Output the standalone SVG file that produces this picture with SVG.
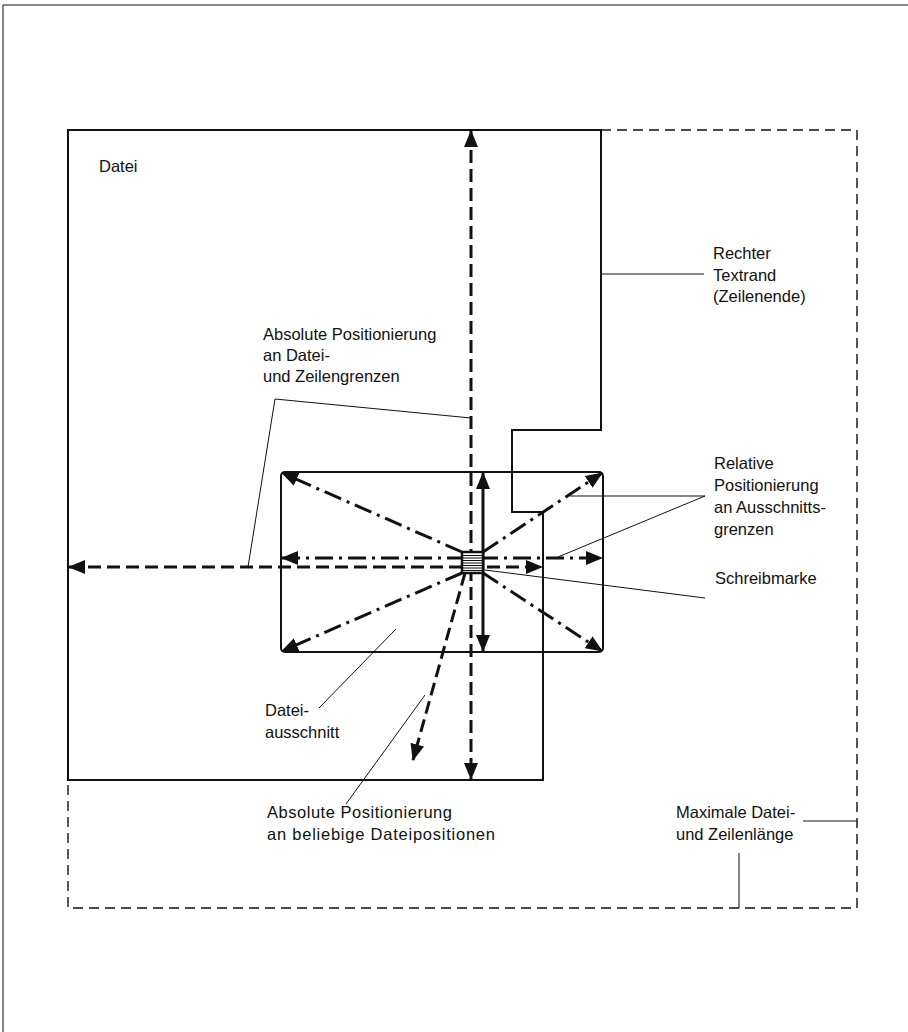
<svg xmlns="http://www.w3.org/2000/svg" width="908" height="1032" viewBox="0 0 908 1032">
<style>
.t{font-family:"Liberation Sans",Arial,sans-serif;font-size:16.5px;fill:#111}
.solid{fill:none;stroke:#111;stroke-width:2}
.maxd{fill:none;stroke:#111;stroke-width:1.4;stroke-dasharray:10 6}
.abs{fill:none;stroke:#111;stroke-width:3;stroke-dasharray:13 6}
.rel{fill:none;stroke:#111;stroke-width:3;stroke-dasharray:18 6 3 6}
.bold{fill:none;stroke:#111;stroke-width:3}
.lead{fill:none;stroke:#111;stroke-width:1}
</style>
<defs>
<marker id="ah" markerUnits="userSpaceOnUse" markerWidth="18" markerHeight="14" refX="16" refY="7" orient="auto-start-reverse" viewBox="0 0 18 14">
<path d="M0,0 L17,7 L0,14 Z" fill="#111"/>
</marker>
</defs>
<g id="page-frame">
<path class="lead" d="M3,1032 V5 H908" stroke-width="1.5"/>
</g>
<g id="max-length">
<path class="maxd" d="M601,130 H857 V908 H68 V780"/>
</g>
<g id="datei">
<path class="solid" d="M68,780 V130 H601 V430 H512 V512 H543 V780 Z"/>
<text class="t" x="99" y="172">Datei</text>
</g>
<g id="dateiausschnitt">
<rect class="solid" x="281" y="472" width="322" height="180" rx="4"/>
</g>
<g id="connectors">
<line class="abs" x1="471" y1="131" x2="471" y2="779" marker-start="url(#ah)" marker-end="url(#ah)"/>
<line class="abs" x1="69" y1="567" x2="542" y2="567" marker-start="url(#ah)" marker-end="url(#ah)"/>
<line class="abs" x1="465" y1="573" x2="413" y2="760" marker-end="url(#ah)"/>
<line class="bold" x1="483" y1="473" x2="483" y2="651" marker-start="url(#ah)" marker-end="url(#ah)"/>
<line class="rel" x1="282" y1="558" x2="602" y2="558" marker-start="url(#ah)" marker-end="url(#ah)"/>
<line class="rel" x1="462" y1="552" x2="282" y2="473" marker-end="url(#ah)"/>
<line class="rel" x1="483" y1="552" x2="602" y2="473" marker-end="url(#ah)"/>
<line class="rel" x1="462" y1="573" x2="282" y2="651" marker-end="url(#ah)"/>
<line class="rel" x1="483" y1="573" x2="602" y2="651" marker-end="url(#ah)"/>
<polyline class="lead" points="471,418 275,399 248,567"/>
<line class="lead" x1="601" y1="274" x2="704" y2="274"/>
<polyline class="lead" points="570,496 705,496 558,557"/>
<line class="lead" x1="485" y1="570" x2="705" y2="598"/>
<line class="lead" x1="319" y1="708" x2="396" y2="629"/>
<line class="lead" x1="425" y1="695" x2="346" y2="804"/>
<line class="lead" x1="803" y1="821" x2="857" y2="821"/>
<line class="lead" x1="739" y1="853" x2="739" y2="908"/>
</g>
<g id="schreibmarke">
<rect x="462" y="552" width="21" height="21" fill="#fff" stroke="#111" stroke-width="2.5"/>
<path class="lead" d="M463,555.5 H482 M463,558 H482 M463,560.5 H482 M463,563 H482 M463,565.5 H482 M463,568 H482 M463,570.5 H482"/>
</g>
<g id="labels">
<text class="t" x="263" y="340">Absolute Positionierung</text>
<text class="t" x="263" y="361">an Datei-</text>
<text class="t" x="263" y="382">und Zeilengrenzen</text>
<text class="t" x="713" y="259">Rechter</text>
<text class="t" x="713" y="281">Textrand</text>
<text class="t" x="713" y="302">(Zeilenende)</text>
<text class="t" x="714" y="469">Relative</text>
<text class="t" x="714" y="491">Positionierung</text>
<text class="t" x="714" y="513">an Ausschnitts-</text>
<text class="t" x="714" y="535">grenzen</text>
<text class="t" x="715" y="584">Schreibmarke</text>
<text class="t" x="265" y="716">Datei-</text>
<text class="t" x="265" y="738">ausschnitt</text>
<text class="t" x="267" y="818" textLength="185" lengthAdjust="spacing">Absolute  Positionierung</text>
<text class="t" x="267" y="840" textLength="228" lengthAdjust="spacing">an beliebige Dateipositionen</text>
<text class="t" x="676" y="818">Maximale Datei-</text>
<text class="t" x="676" y="840">und Zeilenlänge</text>
</g>
</svg>
